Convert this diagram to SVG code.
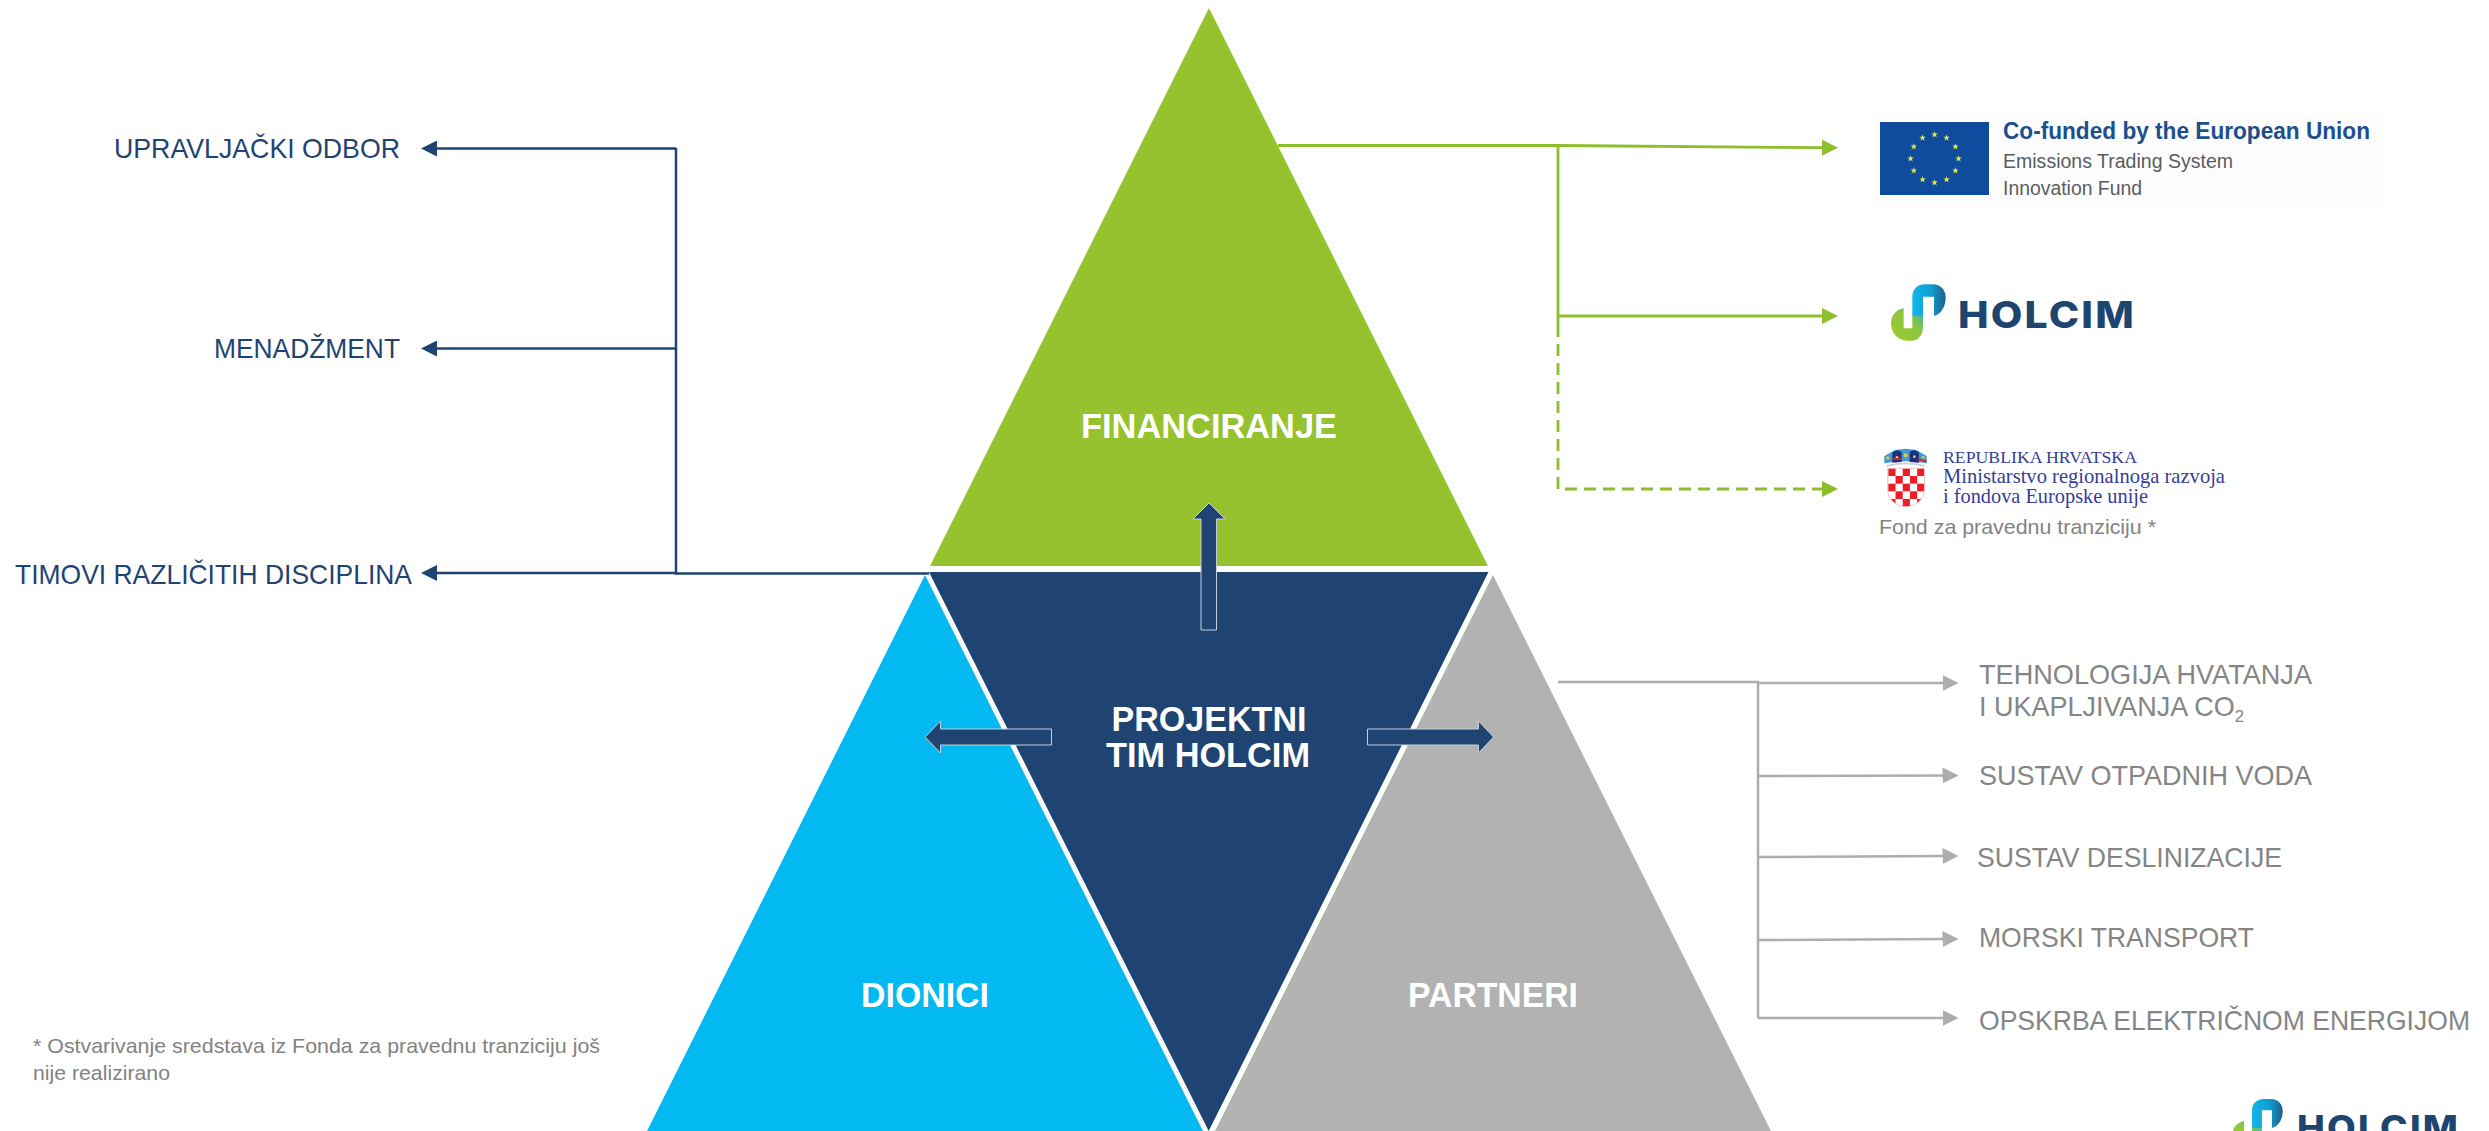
<svg xmlns="http://www.w3.org/2000/svg" xmlns:xlink="http://www.w3.org/1999/xlink" width="2489" height="1131" viewBox="0 0 2489 1131">
<style>
text{font-family:"Liberation Sans",Arial,sans-serif}
.head{font-weight:700;fill:#fff;font-size:35px;text-anchor:middle}
.lab{font-size:27.5px;fill:#1f4472}
.par{font-size:27.6px;fill:#858585}
.note{font-size:21px;fill:#828282}
.serif{font-family:"Liberation Serif",serif;fill:#343d97}
.eu{fill:#5a5c5f;font-size:20.5px}
.logo{font-family:Inter,"Open Sans",sans-serif;font-weight:800;fill:#1d4570;font-size:37px;letter-spacing:2px}
.n{fill:none;stroke:#1f4472;stroke-width:2.5}
.g{fill:none;stroke:#8dbe2b;stroke-width:2.8}
.d{stroke-dasharray:12 7}
.y{fill:none;stroke:#adadad;stroke-width:2.5}
.block{fill:#1f4472;stroke:#c6cfdb;stroke-width:1}
.red{fill:#ee1c25}
</style>
<defs>
<marker id="mn" markerUnits="userSpaceOnUse" markerWidth="16" markerHeight="16" refX="2" refY="8" orient="auto"><path d="M0 0L16 8L0 16Z" fill="#1f4472"/></marker>
<marker id="mg" markerUnits="userSpaceOnUse" markerWidth="16" markerHeight="16" refX="2" refY="8" orient="auto"><path d="M0 0L16 8L0 16Z" fill="#8dbe2b"/></marker>
<marker id="my" markerUnits="userSpaceOnUse" markerWidth="16" markerHeight="16" refX="2" refY="8" orient="auto"><path d="M0 0L16 8L0 16Z" fill="#adadad"/></marker>
<linearGradient id="lb" x1="0" y1="0" x2="1" y2="0"><stop offset="0" stop-color="#12b5ea"/><stop offset=".55" stop-color="#0f9fd0"/><stop offset="1" stop-color="#1d5f8c"/></linearGradient>
<linearGradient id="lg" x1="0" y1="1" x2="1" y2="0"><stop offset="0" stop-color="#a3c92f"/><stop offset=".6" stop-color="#8cc63f"/><stop offset="1" stop-color="#2bb8b8"/></linearGradient>
<polygon id="star" points="0,-3.5 .8,-1.1 3.3,-1.1 1.3,.4 2.1,2.8 0,1.4 -2.1,2.8 -1.3,.4 -3.3,-1.1 -.8,-1.1" fill="#e6e64a"/>
<g id="mark">
<path fill="url(#lb)" d="M97 125L97 64C97 42 114 28 135 28L158 28C182 28 197 45 197 68C197 98 180 118 162 123L162 65L129 65L129 125Z"/>
<path fill="url(#lg)" d="M71 100L71 160L97 160L97 122L129 122L129 155C129 180 115 197 95 197L80 197C55 197 33 175 33 145C33 125 45 105 71 100Z"/>
</g>
<clipPath id="sh"><path d="M38 85L148 85L148 150C148 178 122 200 93 200C64 200 38 178 38 150Z"/></clipPath>
</defs>

<g id="financiranje"><polygon points="1209,8 1488,566 930,566" fill="#95c22e"/><text class="head" x="1209" y="438" textLength="256" lengthAdjust="spacingAndGlyphs">FINANCIRANJE</text></g>
<g id="dionici"><polygon points="925,575 1203,1131 647,1131" fill="#02b9f2"/><text class="head" x="925" y="1007" textLength="128" lengthAdjust="spacingAndGlyphs">DIONICI</text></g>
<g id="partneri"><polygon points="1493,575 1771,1131 1215,1131" fill="#b2b2b2"/><text class="head" x="1493" y="1007" textLength="170" lengthAdjust="spacingAndGlyphs">PARTNERI</text></g>
<g id="tim"><polygon points="929,572 1488.5,572 1208.7,1131" fill="#1f4472"/>
<text class="head" x="1209" y="731" textLength="195" lengthAdjust="spacingAndGlyphs">PROJEKTNI</text><text class="head" x="1208" y="767" textLength="204" lengthAdjust="spacingAndGlyphs">TIM HOLCIM</text></g>
<g id="block-arrows">
<polygon class="block" points="1209,503 1225,519 1216.5,519 1216.5,630 1201,630 1201,519 1193,519"/>
<polygon class="block" points="925,737 940.5,721 940.5,729 1051.5,729 1051.5,745 940.5,745 940.5,753"/>
<polygon class="block" points="1493.5,737 1478.5,721 1478.5,729 1367.5,729 1367.5,745 1478.5,745 1478.5,753"/>
</g>

<g id="connectors">
<path class="n" d="M929 573.5L676 573.5L676 148"/>
<path class="n" d="M676 148.5L435 148.5" marker-end="url(#mn)"/>
<path class="n" d="M675 348.5L435 348.5" marker-end="url(#mn)"/>
<path class="n" d="M675 573L435 573" marker-end="url(#mn)"/>
<path class="g" d="M1278 145.5L1558 145.5L1824 147.7" marker-end="url(#mg)"/>
<path class="g" d="M1558 145.5L1558 325"/>
<path class="g" d="M1558 316L1824 316" marker-end="url(#mg)"/>
<path class="g d" d="M1558 325L1558 489L1824 489" marker-end="url(#mg)"/>
<path class="y" d="M1558 682L1758 682L1758 1018"/>
<path class="y" d="M1758 683L1944.5 683" marker-end="url(#my)"/>
<path class="y" d="M1758 776L1944.5 775.5" marker-end="url(#my)"/>
<path class="y" d="M1758 857L1944.5 856" marker-end="url(#my)"/>
<path class="y" d="M1758 940L1944.5 939" marker-end="url(#my)"/>
<path class="y" d="M1758 1018L1944.5 1018" marker-end="url(#my)"/>
</g>

<g id="upravljacki-odbor"><text class="lab" x="114" y="158" textLength="286" lengthAdjust="spacingAndGlyphs">UPRAVLJAČKI ODBOR</text></g>
<g id="menadzment"><text class="lab" x="214" y="358" textLength="186" lengthAdjust="spacingAndGlyphs">MENADŽMENT</text></g>
<g id="timovi"><text class="lab" x="15" y="584" textLength="397" lengthAdjust="spacingAndGlyphs">TIMOVI RAZLIČITIH DISCIPLINA</text></g>

<g id="tehnologija"><text class="par" x="1979" y="684" textLength="333" lengthAdjust="spacingAndGlyphs">TEHNOLOGIJA HVATANJA</text><text class="par" x="1979" y="716" textLength="265" lengthAdjust="spacingAndGlyphs">I UKAPLJIVANJA CO<tspan font-size="17" dy="6">2</tspan></text></g>
<g id="otpadne-vode"><text class="par" x="1979" y="785" textLength="333" lengthAdjust="spacingAndGlyphs">SUSTAV OTPADNIH VODA</text></g>
<g id="deslinizacija"><text class="par" x="1977" y="867" textLength="305" lengthAdjust="spacingAndGlyphs">SUSTAV DESLINIZACIJE</text></g>
<g id="morski-transport"><text class="par" x="1979" y="947" textLength="275" lengthAdjust="spacingAndGlyphs">MORSKI TRANSPORT</text></g>
<g id="opskrba"><text class="par" x="1979" y="1030" textLength="491" lengthAdjust="spacingAndGlyphs">OPSKRBA ELEKTRIČNOM ENERGIJOM</text></g>

<g id="eu-logo">
<rect x="1873" y="113" width="506" height="94" fill="#fdfdfd"/>
<rect x="1880" y="122" width="109" height="73" fill="#0f4c9e"/>
<use href="#star" x="1934.6" y="134.7"/><use href="#star" x="1946.6" y="137.9"/><use href="#star" x="1955.4" y="146.7"/><use href="#star" x="1958.6" y="158.7"/><use href="#star" x="1955.4" y="170.7"/><use href="#star" x="1946.6" y="179.5"/><use href="#star" x="1934.6" y="182.7"/><use href="#star" x="1922.6" y="179.5"/><use href="#star" x="1913.8" y="170.7"/><use href="#star" x="1910.6" y="158.7"/><use href="#star" x="1913.8" y="146.7"/><use href="#star" x="1922.6" y="137.9"/>
<text x="2003" y="139" font-size="24" font-weight="700" fill="#1c4f8c" textLength="367" lengthAdjust="spacingAndGlyphs">Co-funded by the European Union</text>
<text class="eu" x="2003" y="168" textLength="230" lengthAdjust="spacingAndGlyphs">Emissions Trading System</text>
<text class="eu" x="2003" y="195" textLength="139" lengthAdjust="spacingAndGlyphs">Innovation Fund</text>
</g>

<g id="holcim-logo">
<use href="#mark" transform="translate(1880 275) scale(.3333)"/>
<text class="logo" x="1958" y="328" textLength="178" lengthAdjust="spacingAndGlyphs">HOLCIM</text>
</g>

<g id="ministarstvo-logo">
<g transform="translate(1875 440) scale(.3333)">
<path d="M28 70L28 48L60 30L92 26L124 30L155 48L155 70Q92 58 28 70Z" fill="#3c9bd8"/>
<g fill="#1f2f7a"><path d="M52 38Q66 24 80 36L80 66L52 68Z"/><path d="M104 36Q118 24 132 38L132 68L104 66Z"/></g>
<g fill="#e8c93a"><circle cx="38" cy="54" r="5"/><circle cx="66" cy="52" r="4"/><circle cx="92" cy="46" r="6"/><circle cx="118" cy="50" r="4"/><circle cx="144" cy="52" r="4"/></g>
<path d="M52 58L80 56M128 58L155 64" stroke="#d8232a" stroke-width="5" fill="none"/>
<path d="M34 78Q92 62 150 78" fill="none" stroke="#c9ced8" stroke-width="5"/>
<g clip-path="url(#sh)"><rect x="38" y="85" width="110" height="115" fill="#fff"/>
<rect class="red" x="40" y="85" width="21.6" height="23"/><rect class="red" x="83.2" y="85" width="21.6" height="23"/><rect class="red" x="126.4" y="85" width="21.6" height="23"/>
<rect class="red" x="61.6" y="108" width="21.6" height="23"/><rect class="red" x="104.8" y="108" width="21.6" height="23"/>
<rect class="red" x="40" y="131" width="21.6" height="23"/><rect class="red" x="83.2" y="131" width="21.6" height="23"/><rect class="red" x="126.4" y="131" width="21.6" height="23"/>
<rect class="red" x="61.6" y="154" width="21.6" height="23"/><rect class="red" x="104.8" y="154" width="21.6" height="23"/>
<rect class="red" x="40" y="177" width="21.6" height="23"/><rect class="red" x="83.2" y="177" width="21.6" height="23"/><rect class="red" x="126.4" y="177" width="21.6" height="23"/></g>
<path d="M38 85L148 85L148 150C148 178 122 200 93 200C64 200 38 178 38 150Z" fill="none" stroke="#f2a0a4" stroke-width="2"/>
</g>
<text class="serif" x="1943" y="463" font-size="17.5" textLength="194" lengthAdjust="spacingAndGlyphs">REPUBLIKA HRVATSKA</text>
<text class="serif" x="1943" y="483" font-size="21" textLength="282" lengthAdjust="spacingAndGlyphs">Ministarstvo regionalnoga razvoja</text>
<text class="serif" x="1943" y="503" font-size="21" textLength="205" lengthAdjust="spacingAndGlyphs">i fondova Europske unije</text>
<text class="note" x="1879" y="534" textLength="277" lengthAdjust="spacingAndGlyphs">Fond za pravednu tranziciju *</text>
</g>

<g id="footnote">
<text class="note" x="33" y="1053" textLength="567" lengthAdjust="spacingAndGlyphs">* Ostvarivanje sredstava iz Fonda za pravednu tranziciju još</text>
<text class="note" x="33" y="1080" textLength="137" lengthAdjust="spacingAndGlyphs">nije realizirano</text>
</g>

<g id="holcim-logo-corner">
<use href="#mark" transform="translate(2222.3 1090.4) scale(.3067)"/>
<text class="logo" x="2297" y="1140" style="font-size:34px" textLength="163" lengthAdjust="spacingAndGlyphs">HOLCIM</text>
</g>
</svg>
